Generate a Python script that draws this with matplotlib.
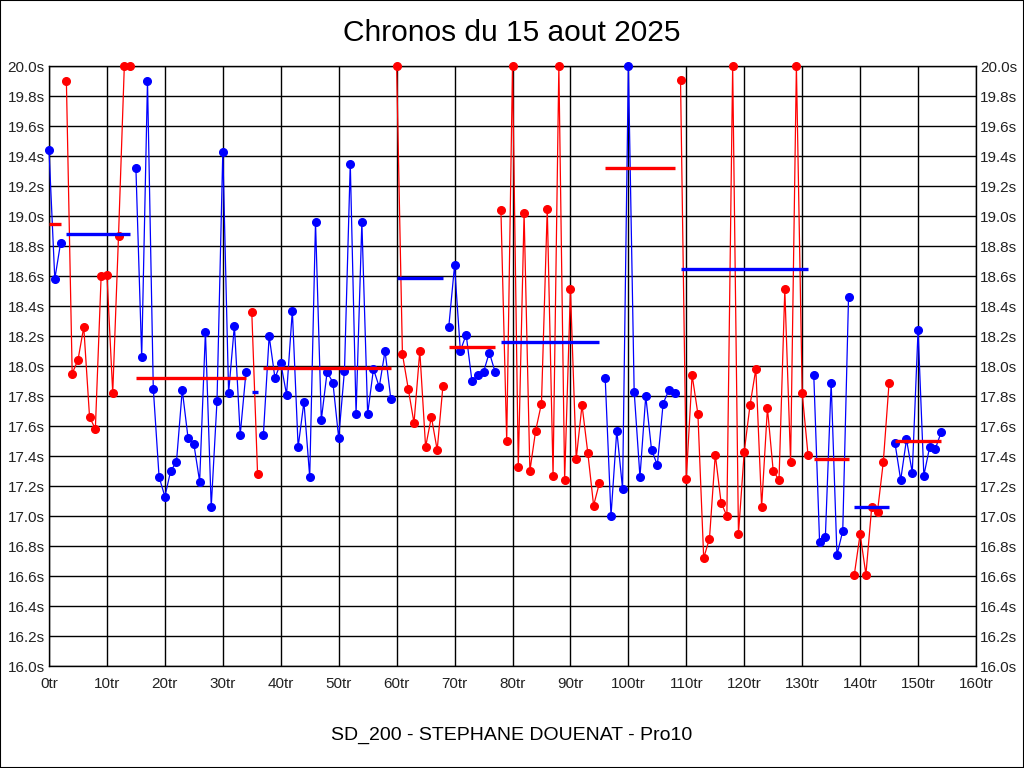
import matplotlib
matplotlib.use("Agg")
import matplotlib.pyplot as plt
from matplotlib.patches import Rectangle
import numpy as np

plt.rcParams['font.family'] = ['Liberation Sans', 'DejaVu Sans']

# lap times (s), values over 20.0 are shown clipped at 20.0
laps = [
    19.44, 18.58, 18.82,
    19.90, 17.95, 18.04, 18.26, 17.66, 17.58, 18.60, 18.61, 17.82, 18.87, 20.0, 20.0,
    19.32, 18.06, 19.90, 17.85, 17.26, 17.13, 17.30, 17.36, 17.84, 17.52,
    17.48, 17.23, 18.23, 17.06, 17.77, 19.43, 17.82, 18.27, 17.54, 17.96,
    18.36, 17.28,
    17.54, 18.20, 17.92, 18.02, 17.81, 18.37, 17.46, 17.76, 17.26, 18.96, 17.64, 17.96,
    17.89, 17.52, 17.97, 19.35, 17.68, 18.96, 17.68, 17.98, 17.86, 18.10, 17.78,
    20.0, 18.08, 17.85, 17.62, 18.10, 17.46, 17.66, 17.44, 17.87,
    18.26, 18.67, 18.10, 18.21, 17.90, 17.94, 17.96, 18.09, 17.96,
    19.04, 17.50, 20.0, 17.33, 19.02, 17.30, 17.57, 17.75, 19.05,
    17.27, 20.0, 17.24, 18.51, 17.38, 17.74, 17.42, 17.07, 17.22,
    17.92, 17.00, 17.57, 17.18, 20.0, 17.83, 17.26, 17.80, 17.44, 17.34, 17.75, 17.84, 17.82,
    19.91, 17.25, 17.94, 17.68, 16.72, 16.85, 17.41, 17.09, 17.00, 20.0, 16.88, 17.43,
    17.74, 17.98, 17.06, 17.72, 17.30, 17.24, 18.51, 17.36, 20.0, 17.82, 17.41,
    17.94, 16.83, 16.86, 17.89, 16.74, 16.90, 18.46,
    16.61, 16.88, 16.61, 17.06, 17.03, 17.36, 17.89,
    17.49, 17.24, 17.51, 17.29, 18.24, 17.27, 17.46, 17.45, 17.56,
]

# first lap of each run and the run average drawn as a bar
seg_starts = [0, 3, 15, 35, 37, 60, 69, 78, 96, 109, 132, 139, 146]
seg_means = [18.95, 18.88, 17.92, 17.83, 17.99, 18.59, 18.13, 18.16,
             19.32, 18.65, 17.38, 17.06, 17.50]

title = "Chronos du 15 aout 2025"
subtitle = "SD_200 - STEPHANE DOUENAT - Pro10"

fig = plt.figure(figsize=(10.24, 7.68), dpi=100)
ax = fig.add_axes([49 / 1024, 1 - 666 / 768, 927 / 1024, 600 / 768])

x = np.arange(len(laps))
y = np.array(laps)
ends = seg_starts[1:] + [len(laps)]

for i, (s, e) in enumerate(zip(seg_starts, ends)):
    col = 'blue' if i % 2 == 0 else 'red'
    bar_col = 'red' if i % 2 == 0 else 'blue'
    ax.plot(x[s:e], y[s:e], color=col, lw=0.9, marker='o', ms=5.5,
            mec=col, mfc=col, zorder=3, clip_on=False)
    ax.hlines(seg_means[i], s, e - 1, color=bar_col, lw=2.4, zorder=4)

ax.set_xlim(0, 160)
ax.set_ylim(16.0, 20.0)
ax.set_xticks(np.arange(0, 161, 10))
ax.set_xticklabels([f"{t}tr" for t in range(0, 161, 10)])
yt = np.round(np.arange(16.0, 20.01, 0.2), 1)
ax.set_yticks(yt)
ax.set_yticklabels([f"{v:.1f}s" for v in yt])
ax.tick_params(length=0, labelsize=11, labelright=True, colors='#222222')
ax.tick_params(axis='y', pad=3)
ax.tick_params(axis='x', pad=8)
ax.grid(True, color='black', lw=1.0, zorder=1)
ax.set_axisbelow(True)
for sp in ax.spines.values():
    sp.set_color('black')
    sp.set_linewidth(1.0)

fig.text(0.5, 1 - 33 / 768, title, ha='center', va='center', fontsize=21.5)
fig.text(0.5, 1 - 735 / 768, subtitle, ha='center', va='center', fontsize=14)

fig.add_artist(Rectangle((0, 0), 1, 1, transform=fig.transFigure, fill=False,
                         ec='black', lw=1.5))

fig.savefig("out.png", dpi=100)
